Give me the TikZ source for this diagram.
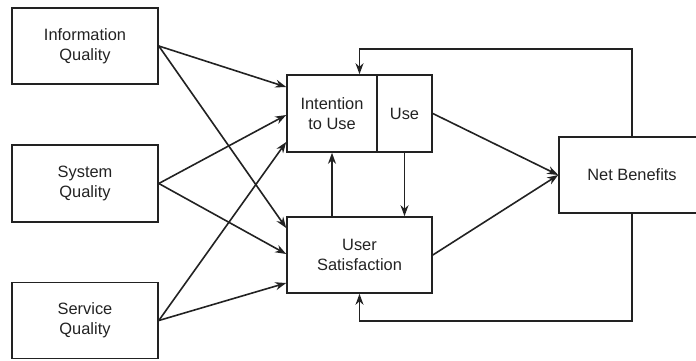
\documentclass[tikz,border=0pt]{standalone}
\usepackage{fontspec}
\setmainfont{Liberation Sans}
\usetikzlibrary{arrows.meta}
\definecolor{ink}{HTML}{222222}
\begin{document}
\begin{tikzpicture}[x=1bp,y=-1bp,
  box/.style={draw=ink,line width=1.6bp,inner sep=0pt,align=center,
    font=\fontsize{16.4bp}{20bp}\selectfont,text=ink},
  arr/.style={draw=ink,line width=1.6bp,-{Stealth[length=11bp,width=8bp,inset=3.5bp]}},
  ln/.style={draw=ink,line width=1.6bp}]
\useasboundingbox (0,0) rectangle (696,360);
\begin{scope}
\clip (0,0) rectangle (696,360);
\node[box,minimum width=146bp,minimum height=76bp] (iq) at (85,46) {Information\\Quality};
\node[box,minimum width=146bp,minimum height=77bp] (sq) at (85,183.5) {System\\Quality};
\node[box,minimum width=146bp,minimum height=76bp] (svq) at (85,320.5) {Service\\Quality};
\node[box,minimum width=90bp,minimum height=77bp] (int) at (332,113.5) {Intention\\to Use};
\node[box,minimum width=55bp,minimum height=77bp] (use) at (404.5,113.5) {Use};
\node[box,minimum width=145bp,minimum height=76bp] (us) at (359.5,255) {User\\Satisfaction};
\node[box,minimum width=146bp,minimum height=76bp] (nb) at (632,175) {Net Benefits};
\end{scope}
\coordinate (top) at (632,49);
\coordinate (bot) at (632,321);
% quality arrows
\draw[arr] (iq.east) -- ([yshift=26.5bp]int.west);
\draw[arr] (iq.east) -- ([yshift=27bp]us.west);
\draw[arr] (sq.east) -- ([yshift=-1.5bp]int.west);
\draw[arr] (sq.east) -- ([yshift=1bp]us.west);
\draw[arr] (svq.east) -- ([yshift=-28.5bp]int.west);
\draw[arr] (svq.east) -- ([yshift=-28bp]us.west);
% internal
\draw[arr] (use.south) -- (use.south |- us.north);
\draw[arr] (us.north -| int.south) -- (int.south);
\draw[arr] (use.east) -- (nb.west);
\draw[arr] (us.east) -- (nb.west);
% feedback
\draw[arr] (nb.north) -- (top) -| (us.north |- int.north);
\draw[arr] (nb.south) -- (bot) -| (us.south);
\end{tikzpicture}
\end{document}
